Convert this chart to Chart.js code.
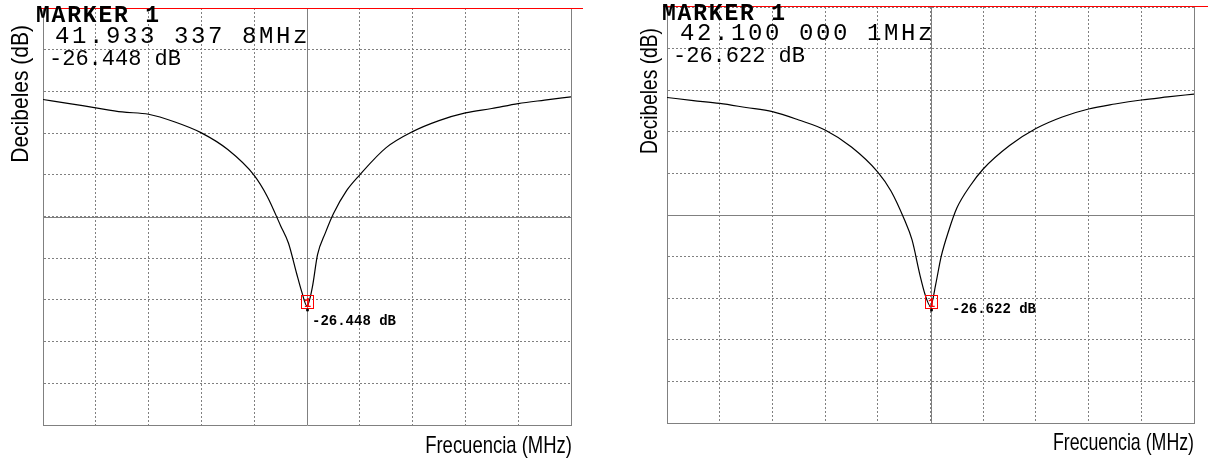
<!DOCTYPE html>
<html>
<head>
<meta charset="utf-8">
<script src="https://cdn.jsdelivr.net/npm/chart.js@4/dist/chart.umd.min.js"></script>
<style>
  html, body { margin: 0; padding: 0; background: #fff; }
  #wrap { position: relative; width: 1208px; height: 463px; }
  .panel { position: absolute; top: 0; width: 604px; height: 463px; }
</style>
</head>
<body>
<div id="wrap">
  <div class="panel" style="left:0"><canvas id="c1" width="604" height="463"></canvas></div>
  <div class="panel" style="left:604px"><canvas id="c2" width="604" height="463"></canvas></div>
</div>
<script>
// medida 1 (izquierda)
const freqA = [41.4333, 41.4833, 41.5333, 41.5833, 41.6333, 41.6833, 41.7333, 41.7833, 41.8333,
  41.8583, 41.8833, 41.8983, 41.9133, 41.9233, 41.9333, 41.9433, 41.9533, 41.9683, 41.9833,
  42.0083, 42.0333, 42.0833, 42.1333, 42.1833, 42.2333, 42.2833, 42.3333, 42.3833, 42.4333];
const dbA = [-8.12, -8.48, -8.86, -9.22, -9.43, -10.12, -11.08, -12.56, -14.85,
  -16.74, -19.31, -20.87, -23.49, -25.17, -26.448, -24.82, -21.89, -19.93, -18.25,
  -16.20, -14.80, -12.39, -10.97, -9.99, -9.31, -8.92, -8.48, -8.17, -7.88];

// medida 2 (derecha)
const freqB = [41.6, 41.65, 41.7, 41.75, 41.8, 41.85, 41.9, 41.95, 42.0,
  42.025, 42.05, 42.065, 42.08, 42.09, 42.1, 42.11, 42.12, 42.135, 42.15,
  42.175, 42.2, 42.25, 42.3, 42.35, 42.4, 42.45, 42.5, 42.55, 42.6];
const dbB = [-8.05, -8.32, -8.58, -8.94, -9.31, -10.05, -10.94, -12.45, -14.68,
  -16.36, -18.86, -20.72, -23.84, -25.61, -26.622, -24.64, -22.24, -19.83, -17.88,
  -15.92, -14.41, -12.32, -10.81, -9.78, -9.07, -8.63, -8.27, -8.00, -7.74];

const markerFreq = [41.9333378, 42.1000001];
const markerDb = [-26.448, -26.622];
const markerFreqText = ['41.933 337 8MHz', '42.100 000 1MHz'];
const markerDbText = ['-26.448 dB', '-26.622 dB'];

const spanMHz = 1.0;
const dbTop = 0;
const dbBottom = -37;

function spaced(ctx, txt, x, y, adv) {
  for (let i = 0; i < txt.length; i++) ctx.fillText(txt[i], x + i * adv, y);
}

function stretched(ctx, txt, x, y, sx, rot) {
  ctx.save();
  ctx.translate(x, y);
  ctx.rotate(rot);
  ctx.scale(sx, 1);
  ctx.textAlign = 'right';
  ctx.fillText(txt, 0, 0);
  ctx.restore();
}

const overlay = {
  id: 'overlay',
  beforeDatasetsDraw(chart, args, o) {
    const { ctx, chartArea: a, scales: { x, y } } = chart;
    const cx = Math.round(x.getPixelForValue(o.center)) + 0.5;
    const cy = Math.round(y.getPixelForValue((dbTop + dbBottom) / 2)) + 0.5;
    ctx.save();
    ctx.strokeStyle = '#808080';
    ctx.lineWidth = 1;
    ctx.beginPath();
    ctx.moveTo(cx, a.top); ctx.lineTo(cx, a.bottom);
    ctx.moveTo(a.left, cy); ctx.lineTo(a.right, cy);
    ctx.moveTo(Math.round(a.right) + 0.5, a.top); ctx.lineTo(Math.round(a.right) + 0.5, a.bottom);
    ctx.stroke();
    ctx.restore();
  },
  afterDraw(chart, args, o) {
    const { ctx, chartArea: a, scales: { x, y } } = chart;
    ctx.save();
    ctx.setLineDash([]);
    // borde superior rojo
    ctx.strokeStyle = 'rgb(255,0,0)';
    ctx.lineWidth = 1;
    ctx.beginPath();
    ctx.moveTo(a.left - 4, o.redY);
    ctx.lineTo(o.redEnd, o.redY);
    ctx.stroke();

    // títulos de ejes
    ctx.fillStyle = '#000';
    ctx.textBaseline = 'alphabetic';
    ctx.font = '24px "Liberation Sans", Arial, sans-serif';
    stretched(ctx, 'Decibeles (dB)', o.yTitle.x, o.yTitle.y, o.yTitle.sx, -Math.PI / 2);
    stretched(ctx, 'Frecuencia (MHz)', o.xTitle.x, o.xTitle.y, o.xTitle.sx, 0);

    // lectura del marcador
    ctx.textAlign = 'left';
    ctx.font = 'bold 23px "Liberation Mono", "Courier New", monospace';
    spaced(ctx, 'MARKER 1', a.left + o.l1.dx, o.l1.y, 15.6);
    ctx.font = '24px "Liberation Mono", "Courier New", monospace';
    spaced(ctx, markerFreqText[o.idx], a.left + o.l2.dx, o.l2.y, 17);
    ctx.font = '22px "Liberation Mono", "Courier New", monospace';
    spaced(ctx, markerDbText[o.idx], a.left + o.l3.dx, o.l3.y, 13.2);

    // marcador sobre la traza
    const px = Math.round(x.getPixelForValue(markerFreq[o.idx]));
    const py = Math.round(y.getPixelForValue(markerDb[o.idx]));
    ctx.strokeStyle = 'rgb(255,0,0)';
    ctx.strokeRect(px - 5.5, py - 10.5, 12, 13);
    ctx.fillStyle = 'rgb(255,0,0)';
    ctx.font = 'bold 12px "Liberation Mono", monospace';
    ctx.textAlign = 'center';
    ctx.fillText('1', px + 0.5, py + 1);
    ctx.fillStyle = '#000';
    ctx.beginPath();
    ctx.arc(px + 0.5, py + 4, 1.5, 0, Math.PI * 2);
    ctx.fill();
    ctx.textAlign = 'left';
    ctx.font = 'bold 14px "Liberation Mono", "Courier New", monospace';
    ctx.fillText(markerDbText[o.idx], px + o.lab.dx, py + o.lab.dy);
    ctx.restore();
  }
};

function makeChart(id, freqs, dbs, idx, pad, yWidth, xHeight, extra) {
  const center = markerFreq[idx];
  return new Chart(document.getElementById(id), {
    type: 'line',
    data: {
      datasets: [{
        data: freqs.map((f, i) => ({ x: f, y: dbs[i] })),
        borderColor: '#000',
        borderWidth: 1.2,
        pointRadius: 0,
        cubicInterpolationMode: 'monotone',
        fill: false
      }]
    },
    options: {
      responsive: false,
      animation: false,
      devicePixelRatio: 1,
      layout: { padding: pad },
      plugins: {
        legend: { display: false },
        tooltip: { enabled: false },
        overlay: Object.assign({ idx, center }, extra)
      },
      scales: {
        x: {
          type: 'linear',
          min: center - spanMHz / 2,
          max: center + spanMHz / 2,
          ticks: { display: false, count: 11 },
          grid: { color: '#808080', lineWidth: 1, drawTicks: false },
          border: { color: '#808080', width: 1, dash: [2, 2] },
          afterFit: s => { s.height = xHeight; }
        },
        y: {
          min: dbBottom,
          max: dbTop,
          ticks: { display: false, count: 11 },
          grid: { color: '#808080', lineWidth: 1, drawTicks: false },
          border: { color: '#808080', width: 1, dash: [2, 2] },
          afterFit: s => { s.width = yWidth; }
        }
      }
    },
    plugins: [overlay]
  });
}

makeChart('c1', freqA, dbA, 0, { top: 8, right: 33, left: 0, bottom: 0 }, 43, 38, {
  redEnd: 583,
  redY: 8.5,
  yTitle: { x: 28, y: 25, sx: 0.875 },
  xTitle: { x: 572, y: 453, sx: 0.77 },
  l1: { dx: -7, y: 22 },
  l2: { dx: 12, y: 43 },
  l3: { dx: 6, y: 65 },
  lab: { dx: 5, dy: 19 }
});

makeChart('c2', freqB, dbB, 1, { top: 7, right: 14, left: 0, bottom: 0 }, 63, 40, {
  redEnd: 604,
  redY: 6.5,
  yTitle: { x: 53, y: 28, sx: 0.8 },
  xTitle: { x: 590, y: 450, sx: 0.74 },
  l1: { dx: -5, y: 20 },
  l2: { dx: 13, y: 40 },
  l3: { dx: 6, y: 62 },
  lab: { dx: 21, dy: 7 }
});
</script>
</body>
</html>
